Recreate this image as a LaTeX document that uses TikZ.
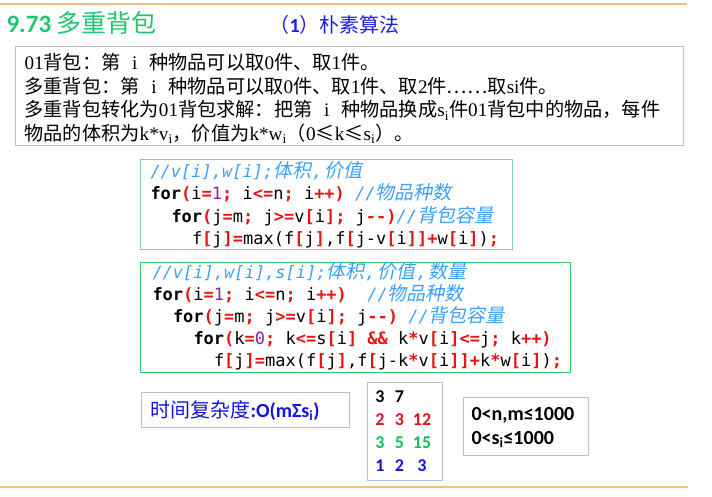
\documentclass[tikz,border=0pt]{standalone}
\usepackage{fontspec}
\setmainfont{Noto Sans CJK SC}
\newfontfamily\latfont{Liberation Serif}
\newfontfamily\codefont{DejaVu Sans Mono}
\newfontfamily\cnslant{Noto Sans CJK SC}[FakeSlant=0.2]
\newfontfamily\calib{Carlito}

\definecolor{titlegreen}{RGB}{30,200,110}
\definecolor{subblue}{RGB}{30,30,230}
\definecolor{rulecol}{RGB}{245,192,125}
\definecolor{boxgray}{RGB}{192,192,192}
\definecolor{codeboxa}{RGB}{125,215,170}
\definecolor{codeboxb}{RGB}{55,200,110}
\definecolor{cmtblue}{RGB}{60,160,250}
\definecolor{opred}{RGB}{230,20,20}
\definecolor{numpurple}{RGB}{150,30,160}
\definecolor{datared}{RGB}{220,20,30}
\definecolor{datagreen}{RGB}{20,190,90}
\definecolor{datablue}{RGB}{20,20,220}

\newcommand{\kw}[1]{{\bfseries #1}}
\newcommand{\op}[1]{{\bfseries\color{opred}#1}}
\newcommand{\nm}[1]{{\color{numpurple}#1}}
\newcommand{\cm}[1]{{\itshape\color{cmtblue}#1}}
\newcommand{\cmcn}[1]{{\fontsize{19}{20}\cnslant\color{cmtblue}#1}}
\newcommand{\cmsep}{\kern1pt\cm{,}\kern2pt}
\newcommand{\lt}[1]{{\latfont #1}}
\newcommand{\vi}{\makebox[1.5em]{\latfont i}}

\begin{document}
\begin{tikzpicture}[x=1pt,y=-1pt,line width=1pt,
	txt/.style={anchor=base west, inner sep=0pt, font=\fontsize{19.2}{20}\selectfont},
	codeline/.style={anchor=base west, inner sep=0pt, font=\fontsize{17}{20}\selectfont\codefont},
	num/.style={anchor=base, inner sep=0pt, font=\fontsize{18}{20}\selectfont\calib\bfseries}]
	\useasboundingbox (0,0) rectangle (712,497);
	\draw[rulecol, line width=2pt] (0,4) -- (687,4);
	\draw[rulecol, line width=1.5pt] (0,487) -- (688,487);

	\node[anchor=base west, inner sep=0pt, text=titlegreen, font=\fontsize{25}{28}\selectfont] (title) at (6,33) {{\calib\bfseries 9.73} 多重背包};
	\node[anchor=base west, inner sep=0pt, text=subblue, font=\fontsize{20}{24}\selectfont] (subtitle) at (269,33) {（{\calib\bfseries 1}）朴素算法};

	% explanation
	\draw[boxgray] (15,47) rectangle (683,146);
	\node[txt] (ta) at (24,70) {\lt{01}背包：第\vi 种物品可以取\lt{0}件、取\lt{1}件。};
	\node[txt] (tb) at (24,93.5) {多重背包：第\vi 种物品可以取\lt{0}件、取\lt{1}件、取\lt{2}件……取\lt{si}件。};
	\node[txt] (tc) at (24,117) {多重背包转化为\lt{01}背包求解：把第\vi 种物品换成\lt{s\textsubscript{i}}件\lt{01}背包中的物品，每件};
	\node[txt] (td) at (24,140.5) {物品的体积为\lt{k*v\textsubscript{i}}，价值为\lt{k*w\textsubscript{i}}（\lt{0}≤\lt{k}≤\lt{s\textsubscript{i}}）。};

	% 01 backpack code
	\draw[codeboxa] (140,160) rectangle (512,249);
	\node[codeline] (ca) at (150,178) {\cm{//v[i],w[i];}\cmcn{体积}\cmsep\cmcn{价值}};
	\node[codeline] (cb) at (150,200) {\kw{for}\op{(}i\op{=}\nm{1}\op{;} i\op{<=}n\op{;} i\op{++)} \cm{//}\cmcn{物品种数}};
	\node[codeline] (cc) at (171,222.5) {\kw{for}\op{(}j\op{=}m\op{;} j\op{>=}v\op{[}i\op{];} j\op{{-}{-})}\cm{//}\cmcn{背包容量}};
	\node[codeline] (cd) at (191.5,244) {f\op{[}j\op{]=}max(f\op{[}j\op{]},f\op{[}j-v\op{[}i\op{]]+}w\op{[}i\op{]})\op{;}};

	% multiple backpack code
	\draw[codeboxb] (140,262) rectangle (570,372);
	\node[codeline] (ma) at (152,278) {\cm{//v[i],w[i],s[i];}\cmcn{体积}\cmsep\cmcn{价值}\cmsep\cmcn{数量}};
	\node[codeline] (mb) at (152,300) {\kw{for}\op{(}i\op{=}\nm{1}\op{;} i\op{<=}n\op{;} i\op{++)}\ \ \cm{//}\cmcn{物品种数}};
	\node[codeline] (mc) at (172.5,322) {\kw{for}\op{(}j\op{=}m\op{;} j\op{>=}v\op{[}i\op{];} j\op{{-}{-})} \cm{//}\cmcn{背包容量}};
	\node[codeline] (md) at (193,344) {\kw{for}\op{(}k\op{=}\nm{0}\op{;} k\op{<=}s\op{[}i\op{]} \op{\&\&} k\op{*}v\op{[}i\op{]<=}j\op{;} k\op{++)}};
	\node[codeline] (me) at (213.5,366.5) {f\op{[}j\op{]=}max(f\op{[}j\op{]},f\op{[}j-k\op{*}v\op{[}i\op{]]+}k\op{*}w\op{[}i\op{]})\op{;}};

	% complexity
	\draw[boxgray] (141,392) rectangle (349,427);
	\node[anchor=base west, inner sep=0pt, text=datablue, font=\fontsize{20}{24}\selectfont] (cplx) at (150,417) {时间复杂度{\calib\bfseries:O(mΣs\textsubscript{i})}};

	% sample data
	\draw[boxgray] (367,382) rectangle (442,480);
	\foreach \y/\a/\b/\c/\clr [count=\n] in {402/3/7/{}/black,425/2/3/12/datared,448/3/5/15/datagreen,471/1/2/3/datablue}{
		\node[num, text=\clr] (r\n a) at (380,\y) {\a};
		\node[num, text=\clr] (r\n b) at (399.5,\y) {\b};
		\node[num, text=\clr] (r\n c) at (422,\y) {\c};
	}

	% limits
	\draw[boxgray] (463,397) rectangle (588,455);
	\node[anchor=base west, inner sep=0pt, font=\fontsize{20}{24}\selectfont\calib\bfseries] (lima) at (471,420) {0<n,m≤1000};
	\node[anchor=base west, inner sep=0pt, font=\fontsize{20}{24}\selectfont\calib\bfseries] (limb) at (471,444) {0<s\textsubscript{i}≤1000};
\end{tikzpicture}
\end{document}
